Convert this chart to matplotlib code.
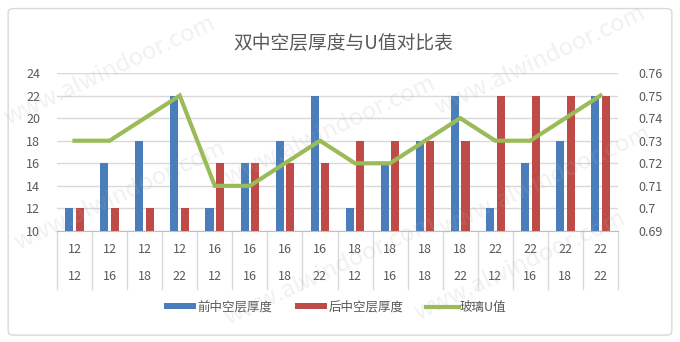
import numpy as np
import matplotlib
matplotlib.use('Agg')
import matplotlib.pyplot as plt
from matplotlib.patches import FancyBboxPatch, Patch
from matplotlib.lines import Line2D
import matplotlib.transforms as mtransforms

# 中文字体
plt.rcParams['font.family'] = ['Noto Sans CJK SC', 'DejaVu Sans']

# 数据
front_row = ['12', '12', '12', '12', '16', '16', '16', '16',
             '18', '18', '18', '18', '22', '22', '22', '22']
back_row = ['12', '16', '18', '22', '12', '16', '18', '22',
            '12', '16', '18', '22', '12', '16', '18', '22']
front_thick = [12, 16, 18, 22, 12, 16, 18, 22, 12, 16, 18, 22, 12, 16, 18, 22]
back_thick = [12, 12, 12, 12, 16, 16, 16, 16, 18, 18, 18, 18, 22, 22, 22, 22]
u_value = [0.73, 0.73, 0.74, 0.75, 0.71, 0.71, 0.72, 0.73,
           0.72, 0.72, 0.73, 0.74, 0.73, 0.73, 0.74, 0.75]
left_ticks = [10, 12, 14, 16, 18, 20, 22, 24]
right_ticks = [0.69, 0.70, 0.71, 0.72, 0.73, 0.74, 0.75, 0.76]
right_labels = ['0.69', '0.7', '0.71', '0.72', '0.73', '0.74', '0.75', '0.76']

blue = '#4A7EBB'
red = '#BE4B48'
green = '#9BBB59'
txt = '#595959'
grid = '#D9D9D9'

fig = plt.figure(figsize=(6.8, 3.42), dpi=100)
fig.patch.set_facecolor('white')

# 外框
fig.patches.append(FancyBboxPatch((0.012, 0.02), 0.976, 0.955,
                                  boxstyle='round,pad=0,rounding_size=0.01',
                                  transform=fig.transFigure, fill=False,
                                  edgecolor='#D9D9D9', linewidth=1))

ax = fig.add_axes([57 / 680, 1 - 231 / 342, 561 / 680, 158 / 342])
x = np.arange(len(front_thick))

ax.bar(x - 0.15, np.array(front_thick) - 10, bottom=10, width=0.23, color=blue, zorder=3)
ax.bar(x + 0.15, np.array(back_thick) - 10, bottom=10, width=0.23, color=red, zorder=3)

ax.set_ylim(10, 24)
ax.set_xlim(-0.5, len(x) - 0.5)
ax.set_yticks(left_ticks)
ax.set_yticklabels([str(v) for v in left_ticks])
ax.yaxis.grid(True, color=grid, linewidth=1, zorder=0)
ax.set_axisbelow(True)
ax.set_xticks([])
for s in ['top', 'left', 'right']:
    ax.spines[s].set_visible(False)
ax.spines['bottom'].set_color('#BFBFBF')
ax.tick_params(axis='y', length=0, labelsize=9, labelcolor=txt, pad=12)

ax2 = ax.twinx()
ax2.plot(x, u_value, color=green, linewidth=3, zorder=5, solid_joinstyle='miter')
ax2.set_ylim(0.69, 0.76)
ax2.set_yticks(right_ticks)
ax2.set_yticklabels(right_labels)
for s in ['top', 'left', 'right', 'bottom']:
    ax2.spines[s].set_visible(False)
ax2.tick_params(axis='y', length=0, labelsize=9, labelcolor=txt, pad=15)
ax2.set_xlim(-0.5, len(x) - 0.5)

# 两级分类标签
trans = mtransforms.blended_transform_factory(ax.transData, ax.transAxes)
for i in range(len(x)):
    ax.text(i, -0.115, front_row[i], transform=trans, ha='center', va='center',
            fontsize=9, color=txt)
    ax.text(i, -0.29, back_row[i], transform=trans, ha='center', va='center',
            fontsize=9, color=txt)
for i in range(len(x) + 1):
    ax.plot([i - 0.5, i - 0.5], [0, -0.37], transform=trans, color='#D9D9D9',
            linewidth=1, clip_on=False)

fig.text(343 / 680, 1 - 43 / 342, '双中空层厚度与U值对比表', ha='center', va='center',
         fontsize=13.5, color=txt)

handles = [Patch(facecolor=blue), Patch(facecolor=red),
           Line2D([], [], color=green, linewidth=3)]
labels = ['前中空层厚度', '后中空层厚度', '玻璃U值']
fig.legend(handles, labels, loc='center', bbox_to_anchor=(335 / 680, 1 - 307 / 342),
           ncol=3, frameon=False, fontsize=9, labelcolor=txt, handlelength=2.6,
           handleheight=0.45, handletextpad=0.1, columnspacing=1.8)

# 水印
for (wx, wy) in [(110, 70), (120, 195), (330, 130), (330, 270), (540, 60),
                 (545, 180), (520, 265)]:
    fig.text(wx / 680, 1 - wy / 342, 'www.alwindoor.com', rotation=25,
             ha='center', va='center', fontsize=17, color='#B0B0B0', alpha=0.18,
             zorder=10)

fig.savefig('out.png', dpi=100)
